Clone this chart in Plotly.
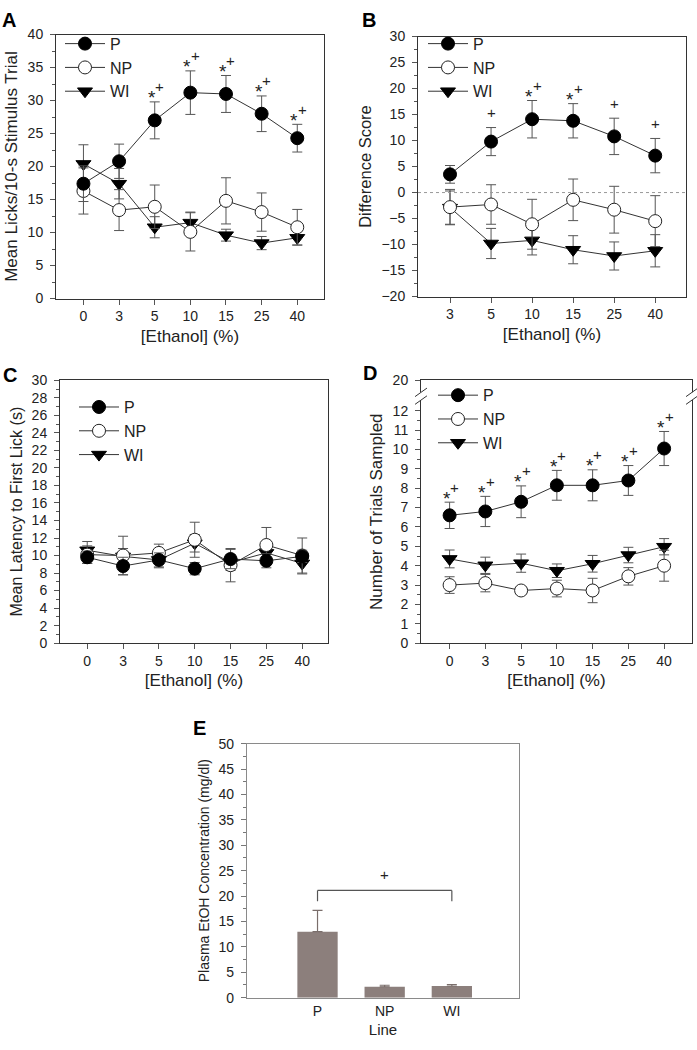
import plotly.graph_objects as go

W, H = 697, 1050
FONT = "Arial, Liberation Sans, sans-serif"

# ---------------- data ----------------
conc7 = ["0", "3", "5", "10", "15", "25", "40"]
conc6 = ["3", "5", "10", "15", "25", "40"]
groups = ["P", "NP", "WI"]

# Panel A: mean licks / 10-s stimulus trial
a_P = [17.4, 20.8, 27.0, 31.2, 31.0, 28.0, 24.3]
a_P_err = [2.7, 2.6, 2.8, 3.3, 2.8, 2.7, 2.1]
a_NP = [16.3, 13.4, 13.9, 10.1, 14.8, 13.1, 10.8]
a_NP_err = [3.5, 3.1, 3.3, 2.9, 3.5, 2.9, 2.7]
a_WI = [20.4, 17.4, 10.8, 11.5, 9.6, 8.4, 9.2]
a_WI_err = [2.9, 2.3, 1.6, 1.6, 0.9, 1.0, 1.1]
a_star = [False, False, True, True, True, True, True]
a_plus = [False, False, True, True, True, True, True]

# Panel B: difference score
b_P = [3.5, 9.8, 14.1, 13.8, 10.8, 7.1]
b_P_err = [1.7, 2.7, 3.6, 3.3, 3.5, 3.3]
b_NP = [-2.8, -2.3, -6.1, -1.4, -3.3, -5.5]
b_NP_err = [3.4, 3.8, 4.8, 4.0, 4.5, 4.9]
b_WI = [-2.9, -9.8, -9.2, -11.0, -12.2, -11.2]
b_WI_err = [3.2, 2.9, 2.8, 2.7, 2.7, 3.1]
b_star = [False, False, True, True, False, False]
b_plus = [False, True, True, True, True, True]

# Panel C: mean latency to first lick (s)
c_P = [9.8, 8.8, 9.5, 8.5, 9.6, 9.4, 9.9]
c_P_err = [0.7, 1.0, 0.8, 0.7, 1.1, 0.8, 0.7]
c_NP = [10.1, 10.0, 10.3, 11.8, 8.9, 11.2, 10.0]
c_NP_err = [1.0, 2.2, 1.0, 2.0, 1.9, 2.0, 2.0]
c_WI = [10.6, 9.9, 9.5, 11.4, 9.2, 10.3, 9.1]
c_WI_err = [1.0, 0.9, 0.9, 1.0, 0.9, 0.8, 1.2]

# Panel D: number of trials sampled
d_P = [6.6, 6.8, 7.3, 8.15, 8.15, 8.4, 10.05]
d_P_err = [0.68, 0.78, 0.82, 0.77, 0.8, 0.77, 0.88]
d_NP = [3.0, 3.1, 2.72, 2.82, 2.72, 3.45, 4.0]
d_NP_err = [0.43, 0.45, 0.12, 0.43, 0.63, 0.45, 0.8]
d_WI = [4.35, 4.02, 4.13, 3.74, 4.1, 4.55, 4.98]
d_WI_err = [0.46, 0.42, 0.47, 0.35, 0.43, 0.4, 0.42]
d_star = [True] * 7
d_plus = [True] * 7
d_tickvals = [0, 1, 2, 3, 4, 5, 6, 7, 8, 9, 10, 11, 12, 13.57]
d_ticktext = ["0", "1", "2", "3", "4", "5", "6", "7", "8", "9", "10", "11", "12", "20"]
d_break = [12.55, 12.95]

# Panel E: plasma EtOH concentration
e_lines = ["P", "NP", "WI"]
e_vals = [13.0, 2.15, 2.3]
e_err = [4.2, 0.3, 0.3]
e_bracket_top = 21.1
e_bracket_end = 19.0
e_plus_y = 24.2

# ---------------- helpers ----------------
def dom_x(l, r):
    return [l / W, r / W]

def dom_y(t, b):
    return [1 - b / H, 1 - t / H]

LINE_C = "#333333"
ERR_C = "#555555"
styles = {
    "P": dict(symbol="circle", color="black", line=dict(color="black", width=1)),
    "NP": dict(symbol="circle", color="white", line=dict(color="#222222", width=1)),
    "WI": dict(symbol="triangle-down", color="black", line=dict(color="black", width=1)),
}

fig = go.Figure()

def add_series(x, y, err, name, xa, ya, leg):
    st = styles[name]
    fig.add_trace(go.Scatter(
        x=x, y=y, mode="lines+markers", name=name,
        xaxis=xa, yaxis=ya, legend=leg,
        line=dict(color=LINE_C, width=1),
        marker=dict(symbol=st["symbol"], size=13, color=st["color"], line=st["line"]),
        error_y=dict(type="data", array=err, color=ERR_C, thickness=1, width=5),
    ))

panels = [
    ("x", "y", "legend", conc7, [(a_WI, a_WI_err, "WI"), (a_NP, a_NP_err, "NP"), (a_P, a_P_err, "P")]),
    ("x2", "y2", "legend2", conc6, [(b_WI, b_WI_err, "WI"), (b_NP, b_NP_err, "NP"), (b_P, b_P_err, "P")]),
    ("x3", "y3", "legend3", conc7, [(c_WI, c_WI_err, "WI"), (c_NP, c_NP_err, "NP"), (c_P, c_P_err, "P")]),
    ("x4", "y4", "legend4", conc7, [(d_WI, d_WI_err, "WI"), (d_NP, d_NP_err, "NP"), (d_P, d_P_err, "P")]),
]
for xa, ya, leg, cats, series in panels:
    for y, e, nm in series:
        add_series(cats, y, e, nm, xa, ya, leg)

# Panel E bars
fig.add_trace(go.Bar(
    x=e_lines, y=e_vals, xaxis="x5", yaxis="y5", showlegend=False, width=0.6,
    marker=dict(color="#8c7f7c", line=dict(width=0)),
    error_y=dict(type="data", array=e_err, arrayminus=[0] * len(e_err), symmetric=False,
                 color="#7a6e6b", thickness=1.2, width=5),
))

# ---------------- axes ----------------
tick_font = dict(family=FONT, size=14, color="#222222")

def tfont(sz):
    return dict(family=FONT, size=sz, color="#222222")

def xcat(dom, cats, anchor, rng):
    return dict(domain=dom, anchor=anchor, type="category", categoryorder="array",
                categoryarray=cats, range=rng, showline=True, linecolor="#333333",
                linewidth=1, mirror=True, ticks="outside", ticklen=5, tickcolor="#555555",
                tickfont=tick_font, showgrid=False, zeroline=False,
                title=dict(text="[Ethanol] (%)", font=tfont(17), standoff=6))

def ylin(dom, anchor, rng, dtick, minor_dtick, title, tsize):
    return dict(domain=dom, anchor=anchor, range=rng, dtick=dtick, showline=True,
                linecolor="#333333", linewidth=1, mirror=True, ticks="outside", ticklen=5,
                tickcolor="#555555", tickfont=tick_font, showgrid=False, zeroline=False,
                ticklabelstandoff=4,
                minor=dict(dtick=minor_dtick, ticks="outside", ticklen=3, tickcolor="#555555"),
                title=dict(text=title, font=tfont(tsize), standoff=5))

layout = dict(
    width=W, height=H, margin=dict(l=0, r=0, t=0, b=0),
    paper_bgcolor="white", plot_bgcolor="white",
    font=dict(family=FONT, color="#222222"),
    xaxis=xcat(dom_x(56, 324), conc7, "y", [-0.77, 6.75]),
    yaxis=ylin(dom_y(27, 295), "x", [0, 40], 5, 2.5, "Mean Licks/10-s Stimulus Trial", 17),
    xaxis2=xcat(dom_x(418, 686), conc6, "y2", [-0.78, 5.75]),
    yaxis2=ylin(dom_y(29, 293), "x2", [-20, 30], 5, 2.5, "Difference Score", 16.5),
    xaxis3=xcat(dom_x(60, 328), conc7, "y3", [-0.76, 6.72]),
    yaxis3=ylin(dom_y(378, 645), "x3", [0, 30], 2, 1, "Mean Latency to First Lick (s)", 16),
    xaxis4=xcat(dom_x(421, 692), conc7, "y4", [-0.8, 6.78]),
    yaxis4=ylin(dom_y(378, 645), "x4", [0, 13.575], 1, 0.5, "Number of Trials Sampled", 17),
    xaxis5=dict(domain=dom_x(247, 519), anchor="y5", type="category", range=[-1.05, 3.0],
                showline=True, linecolor="#8a8a8a", linewidth=1.2, mirror=True, ticks="",
                tickfont=tick_font, showgrid=False, zeroline=False,
                title=dict(text="Line", font=tfont(15), standoff=6)),
    yaxis5=dict(domain=dom_y(747, 1005), anchor="x5", range=[0, 50], dtick=5, showline=True,
                linecolor="#8a8a8a", linewidth=1.2, mirror=True, ticks="outside", ticklen=5,
                tickcolor="#777777", tickfont=tick_font, showgrid=False, zeroline=False,
                ticklabelstandoff=4,
                minor=dict(dtick=2.5, ticks="outside", ticklen=3, tickcolor="#777777"),
                title=dict(text="Plasma EtOH Concentration (mg/dl)", font=tfont(14), standoff=5)),
    bargap=0.4,
)
layout["yaxis4"].update(tickmode="array", tickvals=d_tickvals, ticktext=d_ticktext,
                        minor=dict(tickmode="array", tickvals=[v + 0.5 for v in range(12)],
                                   ticks="outside", ticklen=3, tickcolor="#555555"))

def leg(xpx, ypx):
    return dict(x=xpx / W, y=1 - ypx / H, xanchor="left", yanchor="top",
                bgcolor="rgba(0,0,0,0)", font=tfont(16),
                traceorder="reversed", itemwidth=40, tracegroupgap=0)

layout["legend"] = leg(60, 19)
layout["legend2"] = leg(423, 19)
layout["legend3"] = leg(74, 388)
layout["legend4"] = leg(433, 376)
fig.update_layout(**layout)

# ---------------- annotations ----------------
ann = []
def sig_marks(vals, errs, stars, pluses, xa, ya):
    for i, (v, e, s, p) in enumerate(zip(vals, errs, stars, pluses)):
        if s:
            ann.append(dict(x=i, y=v + e, xref=xa, yref=ya, text="*", showarrow=False,
                            yanchor="middle", yshift=4, xshift=-3,
                            font=tfont(19)))
        if p:
            ann.append(dict(x=i, y=v + e, xref=xa, yref=ya, text="+", showarrow=False,
                            yanchor="middle", yshift=15, xshift=5 if s else 0,
                            font=tfont(15)))

sig_marks(a_P, a_P_err, a_star, a_plus, "x", "y")
sig_marks(b_P, b_P_err, b_star, b_plus, "x2", "y2")
sig_marks(d_P, d_P_err, d_star, d_plus, "x4", "y4")

ann.append(dict(x=1, y=e_plus_y, xref="x5", yref="y5", text="+", showarrow=False, font=tfont(15)))

for letter, xp, yp in [("A", 9, 12), ("B", 369, 12), ("C", 10, 373), ("D", 370, 371), ("E", 199, 731)]:
    ann.append(dict(x=xp / W, y=1 - yp / H, xref="paper", yref="paper", text="<b>%s</b>" % letter,
                    showarrow=False, xanchor="center", yanchor="middle",
                    font=dict(family=FONT, size=20, color="black")))
fig.update_layout(annotations=ann)

# ---------------- shapes ----------------
shapes = []
# dotted zero line in B
shapes.append(dict(type="line", xref="x2 domain", yref="y2", x0=0, x1=1, y0=0, y1=0,
                   line=dict(color="#999999", width=1, dash="dot")))
# axis break in D
for xd in (0, 1):
    shapes.append(dict(type="rect", xref="x4 domain", yref="y4", x0=xd - 0.01, x1=xd + 0.01,
                       y0=d_break[0], y1=d_break[1], fillcolor="white", line=dict(width=0)))
    for yb in d_break:
        shapes.append(dict(type="line", xref="x4 domain", yref="y4", x0=xd - 0.022, x1=xd + 0.022,
                           y0=yb - 0.22, y1=yb + 0.22, line=dict(color="#333333", width=1)))
# bracket in E
bc = dict(color="#555555", width=1.2)
shapes.append(dict(type="line", xref="x5", yref="y5", x0=0, x1=2, y0=e_bracket_top, y1=e_bracket_top, line=bc))
shapes.append(dict(type="line", xref="x5", yref="y5", x0=0, x1=0, y0=e_bracket_end, y1=e_bracket_top, line=bc))
shapes.append(dict(type="line", xref="x5", yref="y5", x0=2, x1=2, y0=e_bracket_end, y1=e_bracket_top, line=bc))
fig.update_layout(shapes=shapes)

fig.write_html("out.html", config={"displayModeBar": False},
               post_script="document.body.style.margin='0px';")
